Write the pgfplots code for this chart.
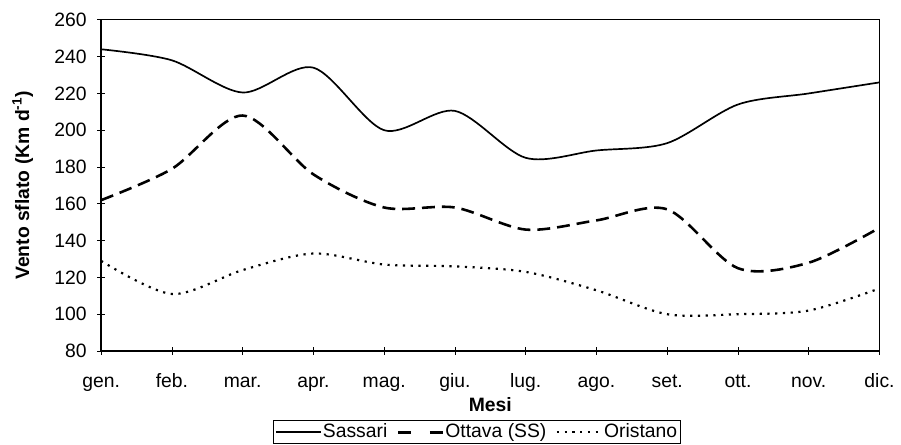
\documentclass[border=0pt]{standalone}
\usepackage{fontspec}
\setmainfont{Liberation Sans}
\usepackage{pgfplots}
\pgfplotsset{compat=1.18}
\begin{document}
\fontsize{19.5}{23}\selectfont
\begin{tikzpicture}
\begin{axis}[
  at={(0pt,0pt)}, anchor=south west,
  scale only axis, width=785pt, height=334pt,
  xmin=0, xmax=11, ymin=80, ymax=260,
  xtick={0,...,11},
  xticklabels={gen.,feb.,mar.,apr.,mag.,giu.,lug.,ago.,set.,ott.,nov.,dic.},
  ytick={80,100,...,260},
  tick align=center, major tick length=8pt,
  xtick pos=bottom, ytick pos=left,
  tick style={black, line width=0.8pt},
  axis line style={line width=1.3pt},
  every tick label/.append style={font=\fontsize{19.5}{23}\selectfont},
  /pgf/number format/assume math mode=true,
  xticklabel style={anchor=base, yshift=-33pt},
  yticklabel style={anchor=east, xshift=-4pt},
  xlabel={\bfseries Mesi},
  ylabel={\bfseries Vento sflato (Km d\textsuperscript{-1})},
  xlabel style={at={(axis description cs:0.5,0)}, anchor=base, yshift=-61pt},
  ylabel style={at={(axis description cs:-0.1006,0.5)}, anchor=center},
  legend columns=3,
  legend style={at={(axis description cs:0.2204,-0.2096)}, anchor=north west,
    draw=black, line width=0.8pt, inner xsep=2pt, inner ysep=1pt,
    font=\fontsize{19.5}{23}\selectfont,
    nodes={inner xsep=1.5pt},
    /tikz/every even column/.append style={column sep=8pt}},
  legend image code/.code={\draw[#1] (0pt,0pt) -- (45pt,0pt);},
]
\addplot[black, line width=1.7pt, smooth] coordinates {
(0,244) (1,238) (2,220.5) (3,234) (4,200) (5,210.5) (6,185) (7,189) (8,193) (9,214) (10,220) (11,226)};
\addlegendentry{Sassari}
\addplot[black, line width=2.6pt, smooth, dash pattern=on 13pt off 7pt,
  legend image code/.code={\draw[black, line width=2.6pt] (0pt,0pt) -- (13pt,0pt) (32pt,0pt) -- (45pt,0pt);}] coordinates {
(0,162) (1,179) (2,208) (3,176) (4,158) (5,158) (6,146) (7,151) (8,157) (9,125) (10,128) (11,147)};
\addlegendentry{Ottava (SS)}
\addplot[black, line width=2.2pt, smooth, dash pattern=on 2.2pt off 5.6pt] coordinates {
(0,129) (1,111) (2,124) (3,133) (4,127) (5,126) (6,123) (7,113) (8,100) (9,100) (10,102) (11,114)};
\addlegendentry{Oristano}
\end{axis}
\path (-102pt,-93pt) rectangle (799pt,354pt);
\end{tikzpicture}
\end{document}
